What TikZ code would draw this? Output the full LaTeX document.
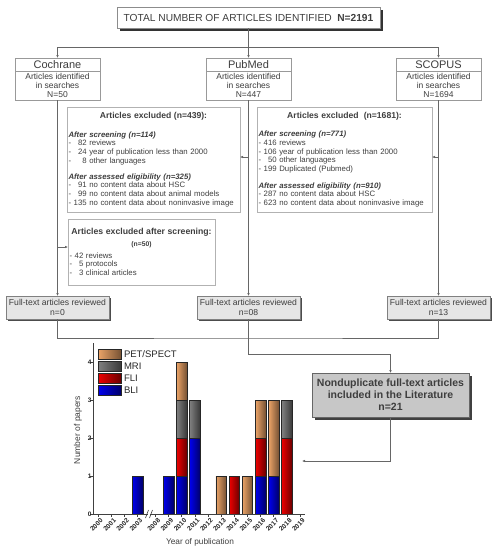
\documentclass[tikz,border=0pt]{standalone}
\usepackage{fontspec}
\setmainfont{Liberation Sans}
\usetikzlibrary{positioning,shadows,arrows.meta}
\definecolor{petcol}{RGB}{236,164,104}
\definecolor{mricol}{RGB}{128,128,128}
\definecolor{flicol}{RGB}{238,0,0}
\definecolor{blicol}{RGB}{0,0,238}
\definecolor{txtcol}{RGB}{62,62,62}
\newcommand{\fsz}[2]{\fontsize{#1}{#2}\selectfont}
\newcommand{\exnum}[1]{\makebox[1.67em][r]{#1}}
\newcommand{\exnumb}[1]{\makebox[1.11em][r]{#1}}

\begin{document}
\begin{tikzpicture}[
    x=1pt, y=-1pt,
    nodes={inner sep=0pt, outer sep=0pt, text=txtcol},
    total/.style={%
        draw=black!45, fill=white,
        minimum width=263pt, minimum height=21pt,
        font=\fsz{10.2}{12},
        drop shadow={shadow xshift=2.5pt, shadow yshift=-2.5pt, fill=black!80, opacity=1}},
    srctitle/.style={%
        draw=black!40, fill=white,
        minimum width=85pt, minimum height=13pt,
        font=\fsz{11}{12}},
    srcbody/.style={%
        draw=black!40, fill=white, align=center,
        minimum width=85pt, minimum height=29pt,
        font=\fsz{8.5}{9.4}},
    exclbox/.style={%
        draw=black!30, align=left, inner xsep=1.5pt,
        font=\fsz{7.8}{8.7}},
    fulltext/.style={%
        draw=black!50, fill=black!10, align=center,
        minimum width=103pt, minimum height=23pt,
        font=\fsz{8.6}{9.2},
        drop shadow={shadow xshift=2pt, shadow yshift=-2pt, fill=black!70, opacity=1}},
    finalbox/.style={%
        draw=black!60, fill=black!22, align=center,
        minimum width=157pt, minimum height=44pt,
        font=\bfseries\fsz{10.5}{12},
        drop shadow={shadow xshift=2.5pt, shadow yshift=-2.5pt, fill=black!75, opacity=1}},
    link/.style={draw=black!60, line width=0.8pt},
    arrow/.style={link, -{Latex[length=3pt,width=2.6pt]}},
    bar/.style={draw=black!85, line width=0.4pt},
    barPET/.style={left color=petcol, right color=petcol!50!black},
    barMRI/.style={left color=mricol, right color=mricol!45!black},
    barFLI/.style={left color=flicol, right color=flicol!45!black},
    barBLI/.style={left color=blicol, right color=blicol!45!black},
    ticklabel/.style={font=\bfseries\fsz{6.6}{7}, text=black!85},
]
\useasboundingbox (0,0) rectangle (498,550);

    %Total
    \node[total] (total) at (248.5,17.5) {TOTAL NUMBER OF ARTICLES IDENTIFIED\hspace{0.55em}\textbf{N=2191}};

    %Sources
    \node[srctitle] (cochrane) at (57.5,64.5) {Cochrane};
    \node[srcbody, below=0pt of cochrane] (cochraneN) {Articles identified\\in searches\\N=50};
    \node[srctitle] (pubmed) at (248.5,64.5) {PubMed};
    \node[srcbody, below=0pt of pubmed] (pubmedN) {Articles identified\\in searches\\N=447};
    \node[srctitle] (scopus) at (438.5,64.5) {SCOPUS};
    \node[srcbody, below=0pt of scopus] (scopusN) {Articles identified\\in searches\\N=1694};

    %Excluded
    \node[exclbox, text width=170pt, minimum height=105pt] (exclP) at (153.5,159.5) {%
        \makebox[\linewidth]{\bfseries\fsz{8.6}{9}Articles excluded (n=439):}\\[10pt]
        \textbf{\textit{After screening (n=114)}}\\
        - \exnum{82} reviews\\
        - \exnum{24} year of publication less than 2000\\
        - \exnum{8} other languages\\[7pt]
        \textbf{\textit{After assessed eligibility (n=325)}}\\
        - \exnum{91} no content data about HSC\\
        - \exnum{99} no content data about animal models\\
        - \exnum{135} no content data about noninvasive image};
    \node[exclbox, text width=172pt, minimum height=105pt] (exclS) at (344.5,159.5) {%
        \makebox[\linewidth]{\bfseries\fsz{8.6}{9}Articles excluded\hspace{0.3em} (n=1681):}\\[10pt]
        \textbf{\textit{After screening (n=771)}}\\
        - \exnum{416} reviews\\
        - \exnum{106} year of publication less than 2000\\
        - \exnum{50} other languages\\
        - \exnum{199} Duplicated (Pubmed)\\[8pt]
        \textbf{\textit{After assessed eligibility (n=910)}}\\
        - \exnum{287} no content data about HSC\\
        - \exnum{623} no content data about noninvasive image};
    \node[exclbox, text width=144pt, minimum height=66pt] (exclC) at (141.5,252) {%
        \makebox[\linewidth]{\bfseries\fsz{8.7}{9}Articles excluded after screening:}\\[3pt]
        \makebox[\linewidth]{\bfseries\fsz{6.8}{7}(n=50)}\\[3pt]
        - \exnumb{42} reviews\\
        - \exnumb{5} protocols\\
        - \exnumb{3} clinical articles};

    %Full-text
    \node[fulltext] (ftC) at (57.5,307.5) {Full-text articles reviewed\\n=0};
    \node[fulltext] (ftP) at (248.5,307.5) {Full-text articles reviewed\\n=08};
    \node[fulltext] (ftS) at (438.5,307.5) {Full-text articles reviewed\\n=13};

    %Included
    \node[finalbox] (final) at (390.5,395) {Nonduplicate full-text articles\\included in the Literature\\n=21};

    %Connectors
    \coordinate (split) at (248.5,47);
    \coordinate (merge) at (248.5,338);
    \coordinate (turn) at (248.5,354);
    \coordinate (chartin) at (302,461);
    \coordinate (exclCin) at ([yshift=5pt]exclC.west);
    \coordinate (exclPin) at ([yshift=2.5pt]exclP.east);
    \coordinate (exclSin) at ([yshift=2.5pt]exclS.east);
    \draw[link] (total) -- (split);
    \draw[arrow] (split) -| (cochrane.north);
    \draw[arrow] (split) -- (pubmed.north);
    \draw[arrow] (split) -| (scopus.north);
    \draw[arrow] (cochraneN.south) -- (ftC.north);
    \draw[arrow] (pubmedN.south) -- (ftP.north);
    \draw[arrow] (scopusN.south) -- (ftS.north);
    \draw[arrow] (cochraneN.south |- exclCin) -- (exclCin);
    \draw[arrow] (pubmedN.south |- exclPin) -- (exclPin);
    \draw[arrow] (scopusN.south |- exclSin) -- (exclSin);
    \draw[link] (ftC.south) |- (merge) -| (ftS.south);
    \draw[arrow] (ftP.south) -- (turn) -| (final.north);
    \draw[arrow] (final.south) |- (chartin);

    %Chart bars
    \foreach \pos/\lo/\hi/\col in {
        137.45/0/1/barBLI, 168.5/0/1/barBLI,
        181.65/0/1/barBLI, 181.65/1/2/barFLI, 181.65/2/3/barMRI, 181.65/3/4/barPET,
        194.8/0/2/barBLI, 194.8/2/3/barMRI,
        221.1/0/1/barPET, 234.25/0/1/barFLI, 247.4/0/1/barPET,
        260.55/0/1/barBLI, 260.55/1/2/barFLI, 260.55/2/3/barPET,
        273.7/0/1/barBLI, 273.7/1/3/barPET,
        286.85/0/2/barFLI, 286.85/2/3/barMRI}
        \draw[bar, \col] ({\pos-5.25},{514-38*\lo}) rectangle ({\pos+5.25},{514-38*\hi});

    %Axes
    \draw[black!75, line width=0.6pt] (93,343) -- (93,514) -- (305,514);
    \foreach \k in {0,...,4}
        \draw[black!75, line width=0.6pt] (90,{514-38*\k}) -- (93,{514-38*\k})
            node[ticklabel, anchor=east, font=\bfseries\fsz{6.5}{7}, xshift=-1.5pt] (ytick\k) {\k};
    \foreach \pos/\yr in {98/2000, 111.15/2001, 124.3/2002, 137.45/2003, 155.35/2008,
        168.5/2009, 181.65/2010, 194.8/2011, 207.95/2012, 221.1/2013, 234.25/2014,
        247.4/2015, 260.55/2016, 273.7/2017, 286.85/2018, 300/2019}{
        \draw[black!75, line width=0.6pt] (\pos,514) -- (\pos,517);
        \node[ticklabel, rotate=45, anchor=north east] (year\yr) at ({\pos+2},518) {\yr};
    }
    \fill[white] (147.6,511) rectangle (150.4,517);
    \draw[black!75, line width=0.6pt] (145.5,518) -- (148.5,510) (149.5,518) -- (152.5,510);
    \node[rotate=90, font=\fsz{8.5}{9}] (ylab) at (78,430) {Number of papers};
    \node[font=\fsz{8.3}{9}] (xlab) at (200,542) {Year of publication};

    %Legend
    \foreach \i/\col/\lab in {0/barPET/{PET/SPECT}, 1/barMRI/MRI, 2/barFLI/FLI, 3/barBLI/BLI}{
        \draw[bar, \col] (98,{349+12*\i}) rectangle (121,{359+12*\i});
        \node[anchor=west, font=\fsz{9.5}{10}, text=black!85] (leg\i) at (124,{354+12*\i}) {\lab};
    }
\end{tikzpicture}
\end{document}
